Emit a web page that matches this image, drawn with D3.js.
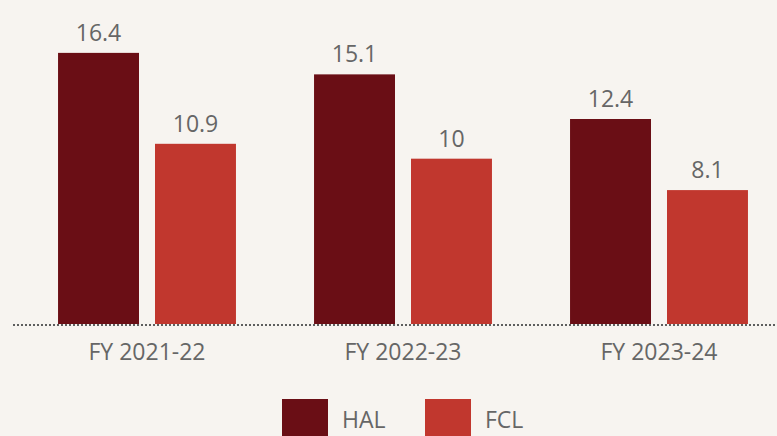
<!DOCTYPE html>
<html lang="en">
<head>
    <meta charset="UTF-8">
    <title>HAL vs FCL</title>
    <style>
        body {
            margin: 0;
            background: #f7f4f0;
            font-family: "Open Sans", sans-serif;
        }
        #chart {
            width: 777px;
            height: 436px;
        }
    </style>
</head>
<body>
    <div id="chart"></div>

    <script src="https://d3js.org/d3.v7.min.js"></script>
    <script>
        // Data
        const years = ['FY 2021-22', 'FY 2022-23', 'FY 2023-24'];
        const series = ['HAL', 'FCL'];
        const halValues = [16.4, 15.1, 12.4];
        const fclValues = [10.9, 10, 8.1];
        const colors = ['#6a0e15', '#c1372e'];

        const width = 777;
        const height = 436;
        const baseline = 324;

        const rows = years.map((y, i) => ({year: y, values: [halValues[i], fclValues[i]]}));

        const svg = d3.select('#chart')
                      .append('svg')
                      .attr('width', width)
                      .attr('height', height);

        // Scales
        const x0 = d3.scaleBand()
                     .domain(years)
                     .range([19, 787])
                     .paddingInner(0.305)
                     .paddingOuter(0.1525);

        const x1 = d3.scaleBand()
                     .domain(series)
                     .range([0, x0.bandwidth()])
                     .paddingInner(0.165);

        const yScale = d3.scaleLinear()
                         .domain([0, 17.3])
                         .range([baseline, 38]);

        const groups = svg.selectAll('.group')
                          .data(rows)
                          .enter()
                          .append('g')
                          .attr('class', 'group')
                          .attr('transform', d => 'translate(' + x0(d.year) + ',0)');

        const cells = groups.selectAll('.cell')
                            .data(d => d.values.map((v, i) => ({key: series[i], value: v, idx: i})))
                            .enter();

        cells.append('rect')
             .attr('x', d => x1(d.key))
             .attr('y', d => yScale(d.value))
             .attr('width', x1.bandwidth())
             .attr('height', d => baseline - yScale(d.value))
             .style('fill', d => colors[d.idx]);

        cells.append('text')
             .attr('x', d => x1(d.key) + x1.bandwidth() / 2)
             .attr('y', d => yScale(d.value) - 12)
             .attr('text-anchor', 'middle')
             .style('font-size', '23px')
             .style('fill', '#666')
             .text(d => d.value);

        // Dotted baseline
        svg.append('line')
           .attr('x1', 13)
           .attr('x2', width)
           .attr('y1', baseline + 1)
           .attr('y2', baseline + 1)
           .style('stroke', '#5e5e5e')
           .style('stroke-width', 2)
           .style('stroke-dasharray', '2,2');

        // Category labels
        const xAxis = svg.append('g')
                         .attr('transform', 'translate(0,' + baseline + ')')
                         .call(d3.axisBottom(x0).tickSize(0).tickPadding(20));
        xAxis.select('.domain').remove();
        xAxis.selectAll('text')
             .style('font-family', '"Open Sans", sans-serif')
             .style('font-size', '23px')
             .style('fill', '#666');

        // Legend
        const legend = svg.selectAll('.legend')
                          .data(series)
                          .enter()
                          .append('g')
                          .attr('class', 'legend')
                          .attr('transform', (d, i) => 'translate(' + (282 + i * 143) + ',399)');

        legend.append('rect')
              .attr('width', 46)
              .attr('height', 46)
              .style('fill', (d, i) => colors[i]);

        legend.append('text')
              .attr('x', 60)
              .attr('y', 29)
              .style('font-size', '23px')
              .style('fill', '#666')
              .text(d => d);
    </script>
</body>
</html>
